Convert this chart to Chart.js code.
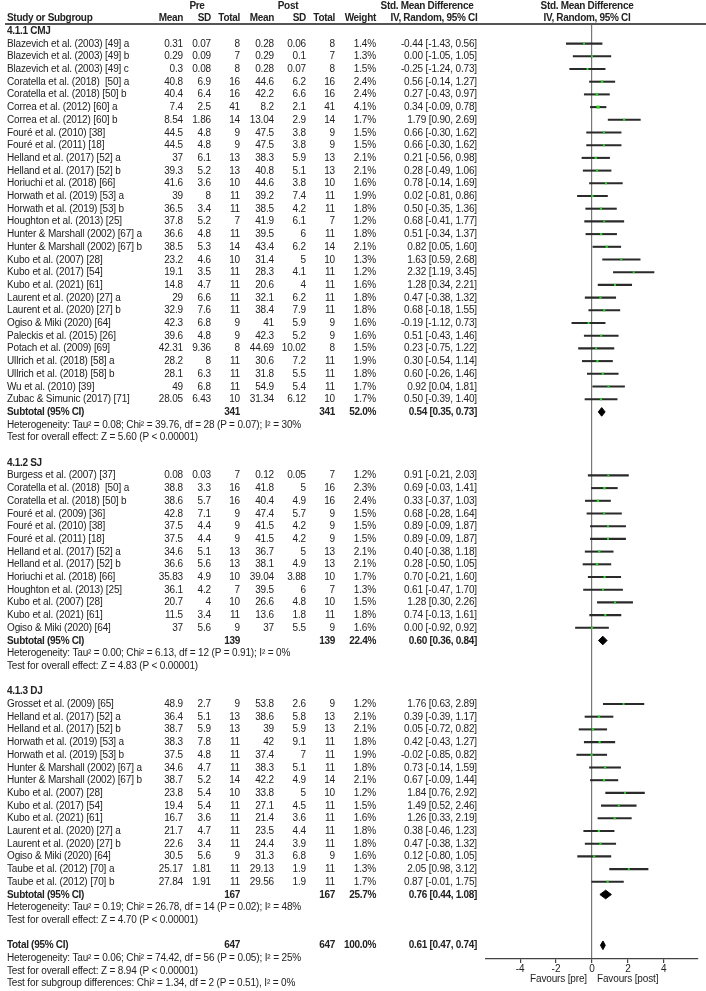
<!DOCTYPE html>
<html>
<head>
<meta charset="utf-8">
<script src="https://cdn.jsdelivr.net/npm/chart.js@4.4.0/dist/chart.umd.min.js"></script>
<style>
  body { margin: 0; background: #fff; }
  #wrap { position: relative; width: 706px; height: 991px; overflow: hidden;
          font-family: "Liberation Sans", Arial, sans-serif; font-size: 10px; color: #222; }
  #forest { position: absolute; left: 0; top: 0; }
  .t { position: absolute; white-space: pre; line-height: 12px; height: 12px; letter-spacing: -0.15px; }
  .b { font-weight: bold; letter-spacing: -0.3px; }
  .rule { position: absolute; left: 5px; top: 23px; width: 701px; height: 2px; background: #555; }
</style>
</head>
<body>
<div id="wrap">
  <canvas id="forest" width="706" height="991"></canvas>
  <div class="rule"></div>
</div>
<script>
// ---- data ----
const subgroupTitles = ['4.1.1 CMJ', '4.1.2 SJ', '4.1.3 DJ'];

const cmjStudies = [
  'Blazevich et al. (2003) [49] a', 'Blazevich et al. (2003) [49] b', 'Blazevich et al. (2003) [49] c',
  'Coratella et al. (2018)  [50] a', 'Coratella et al. (2018) [50] b',
  'Correa et al. (2012) [60] a', 'Correa et al. (2012) [60] b',
  'Fouré et al. (2010) [38]', 'Fouré et al. (2011) [18]',
  'Helland et al. (2017) [52] a', 'Helland et al. (2017) [52] b',
  'Horiuchi et al. (2018) [66]', 'Horwath et al. (2019) [53] a', 'Horwath et al. (2019) [53] b',
  'Houghton et al. (2013) [25]', 'Hunter & Marshall (2002) [67] a', 'Hunter & Marshall (2002) [67] b',
  'Kubo et al. (2007) [28]', 'Kubo et al. (2017) [54]', 'Kubo et al. (2021) [61]',
  'Laurent et al. (2020) [27] a', 'Laurent et al. (2020) [27] b', 'Ogiso & Miki (2020) [64]',
  'Paleckis et al. (2015) [26]', 'Potach et al. (2009) [69]',
  'Ullrich et al. (2018) [58] a', 'Ullrich et al. (2018) [58] b',
  'Wu et al. (2010) [39]', 'Zubac & Simunic (2017) [71]'
];
const cmjPre = [
  [0.31, 0.07, 8], [0.29, 0.09, 7], [0.3, 0.08, 8], [40.8, 6.9, 16], [40.4, 6.4, 16],
  [7.4, 2.5, 41], [8.54, 1.86, 14], [44.5, 4.8, 9], [44.5, 4.8, 9], [37, 6.1, 13],
  [39.3, 5.2, 13], [41.6, 3.6, 10], [39, 8, 11], [36.5, 3.4, 11], [37.8, 5.2, 7],
  [36.6, 4.8, 11], [38.5, 5.3, 14], [23.2, 4.6, 10], [19.1, 3.5, 11], [14.8, 4.7, 11],
  [29, 6.6, 11], [32.9, 7.6, 11], [42.3, 6.8, 9], [39.6, 4.8, 9], [42.31, 9.36, 8],
  [28.2, 8, 11], [28.1, 6.3, 11], [49, 6.8, 11], [28.05, 6.43, 10]
];
const cmjPost = [
  [0.28, 0.06, 8], [0.29, 0.1, 7], [0.28, 0.07, 8], [44.6, 6.2, 16], [42.2, 6.6, 16],
  [8.2, 2.1, 41], [13.04, 2.9, 14], [47.5, 3.8, 9], [47.5, 3.8, 9], [38.3, 5.9, 13],
  [40.8, 5.1, 13], [44.6, 3.8, 10], [39.2, 7.4, 11], [38.5, 4.2, 11], [41.9, 6.1, 7],
  [39.5, 6, 11], [43.4, 6.2, 14], [31.4, 5, 10], [28.3, 4.1, 11], [20.6, 4, 11],
  [32.1, 6.2, 11], [38.4, 7.9, 11], [41, 5.9, 9], [42.3, 5.2, 9], [44.69, 10.02, 8],
  [30.6, 7.2, 11], [31.8, 5.5, 11], [54.9, 5.4, 11], [31.34, 6.12, 10]
];
const cmjWeight = [1.4, 1.3, 1.5, 2.4, 2.4, 4.1, 1.7, 1.5, 1.5, 2.1, 2.1, 1.6, 1.9, 1.8, 1.2,
  1.8, 2.1, 1.3, 1.2, 1.6, 1.8, 1.8, 1.6, 1.6, 1.5, 1.9, 1.8, 1.7, 1.7];
const cmjSmd = [
  [-0.44, -1.43, 0.56], [0.00, -1.05, 1.05], [-0.25, -1.24, 0.73], [0.56, -0.14, 1.27], [0.27, -0.43, 0.97],
  [0.34, -0.09, 0.78], [1.79, 0.90, 2.69], [0.66, -0.30, 1.62], [0.66, -0.30, 1.62], [0.21, -0.56, 0.98],
  [0.28, -0.49, 1.06], [0.78, -0.14, 1.69], [0.02, -0.81, 0.86], [0.50, -0.35, 1.36], [0.68, -0.41, 1.77],
  [0.51, -0.34, 1.37], [0.82, 0.05, 1.60], [1.63, 0.59, 2.68], [2.32, 1.19, 3.45], [1.28, 0.34, 2.21],
  [0.47, -0.38, 1.32], [0.68, -0.18, 1.55], [-0.19, -1.12, 0.73], [0.51, -0.43, 1.46], [0.23, -0.75, 1.22],
  [0.30, -0.54, 1.14], [0.60, -0.26, 1.46], [0.92, 0.04, 1.81], [0.50, -0.39, 1.40]
];

const sjStudies = [
  'Burgess et al. (2007) [37]', 'Coratella et al. (2018)  [50] a', 'Coratella et al. (2018) [50] b',
  'Fouré et al. (2009) [36]', 'Fouré et al. (2010) [38]', 'Fouré et al. (2011) [18]',
  'Helland et al. (2017) [52] a', 'Helland et al. (2017) [52] b', 'Horiuchi et al. (2018) [66]',
  'Houghton et al. (2013) [25]', 'Kubo et al. (2007) [28]', 'Kubo et al. (2021) [61]',
  'Ogiso & Miki (2020) [64]'
];
const sjPre = [
  [0.08, 0.03, 7], [38.8, 3.3, 16], [38.6, 5.7, 16], [42.8, 7.1, 9], [37.5, 4.4, 9],
  [37.5, 4.4, 9], [34.6, 5.1, 13], [36.6, 5.6, 13], [35.83, 4.9, 10], [36.1, 4.2, 7],
  [20.7, 4, 10], [11.5, 3.4, 11], [37, 5.6, 9]
];
const sjPost = [
  [0.12, 0.05, 7], [41.8, 5, 16], [40.4, 4.9, 16], [47.4, 5.7, 9], [41.5, 4.2, 9],
  [41.5, 4.2, 9], [36.7, 5, 13], [38.1, 4.9, 13], [39.04, 3.88, 10], [39.5, 6, 7],
  [26.6, 4.8, 10], [13.6, 1.8, 11], [37, 5.5, 9]
];
const sjWeight = [1.2, 2.3, 2.4, 1.5, 1.5, 1.5, 2.1, 2.1, 1.7, 1.3, 1.5, 1.8, 1.6];
const sjSmd = [
  [0.91, -0.21, 2.03], [0.69, -0.03, 1.41], [0.33, -0.37, 1.03], [0.68, -0.28, 1.64], [0.89, -0.09, 1.87],
  [0.89, -0.09, 1.87], [0.40, -0.38, 1.18], [0.28, -0.50, 1.05], [0.70, -0.21, 1.60], [0.61, -0.47, 1.70],
  [1.28, 0.30, 2.26], [0.74, -0.13, 1.61], [0.00, -0.92, 0.92]
];

const djStudies = [
  'Grosset et al. (2009) [65]', 'Helland et al. (2017) [52] a', 'Helland et al. (2017) [52] b',
  'Horwath et al. (2019) [53] a', 'Horwath et al. (2019) [53] b',
  'Hunter & Marshall (2002) [67] a', 'Hunter & Marshall (2002) [67] b',
  'Kubo et al. (2007) [28]', 'Kubo et al. (2017) [54]', 'Kubo et al. (2021) [61]',
  'Laurent et al. (2020) [27] a', 'Laurent et al. (2020) [27] b', 'Ogiso & Miki (2020) [64]',
  'Taube et al. (2012) [70] a', 'Taube et al. (2012) [70] b'
];
const djPre = [
  [48.9, 2.7, 9], [36.4, 5.1, 13], [38.7, 5.9, 13], [38.3, 7.8, 11], [37.5, 4.8, 11],
  [34.6, 4.7, 11], [38.7, 5.2, 14], [23.8, 5.4, 10], [19.4, 5.4, 11], [16.7, 3.6, 11],
  [21.7, 4.7, 11], [22.6, 3.4, 11], [30.5, 5.6, 9], [25.17, 1.81, 11], [27.84, 1.91, 11]
];
const djPost = [
  [53.8, 2.6, 9], [38.6, 5.8, 13], [39, 5.9, 13], [42, 9.1, 11], [37.4, 7, 11],
  [38.3, 5.1, 11], [42.2, 4.9, 14], [33.8, 5, 10], [27.1, 4.5, 11], [21.4, 3.6, 11],
  [23.5, 4.4, 11], [24.4, 3.9, 11], [31.3, 6.8, 9], [29.13, 1.9, 11], [29.56, 1.9, 11]
];
const djWeight = [1.2, 2.1, 2.1, 1.8, 1.9, 1.8, 2.1, 1.2, 1.5, 1.6, 1.8, 1.8, 1.6, 1.3, 1.7];
const djSmd = [
  [1.76, 0.63, 2.89], [0.39, -0.39, 1.17], [0.05, -0.72, 0.82], [0.42, -0.43, 1.27], [-0.02, -0.85, 0.82],
  [0.73, -0.14, 1.59], [0.67, -0.09, 1.44], [1.84, 0.76, 2.92], [1.49, 0.52, 2.46], [1.26, 0.33, 2.19],
  [0.38, -0.46, 1.23], [0.47, -0.38, 1.32], [0.12, -0.80, 1.05], [2.05, 0.98, 3.12], [0.87, -0.01, 1.75]
];

const subtotalN = [[341, 341], [139, 139], [167, 167]];
const subtotalWeight = [52.0, 22.4, 25.7];
const subtotalSmd = [[0.54, 0.35, 0.73], [0.60, 0.36, 0.84], [0.76, 0.44, 1.08]];
const heterogeneity = [
  'Heterogeneity: Tau² = 0.08; Chi² = 39.76, df = 28 (P = 0.07); I² = 30%',
  'Heterogeneity: Tau² = 0.00; Chi² = 6.13, df = 12 (P = 0.91); I² = 0%',
  'Heterogeneity: Tau² = 0.19; Chi² = 26.78, df = 14 (P = 0.02); I² = 48%'
];
const overallEffect = [
  'Test for overall effect: Z = 5.60 (P < 0.00001)',
  'Test for overall effect: Z = 4.83 (P < 0.00001)',
  'Test for overall effect: Z = 4.70 (P < 0.00001)'
];

const totalN = [647, 647];
const totalWeight = 100.0;
const totalSmd = [0.61, 0.47, 0.74];
const totalNotes = [
  'Heterogeneity: Tau² = 0.06; Chi² = 74.42, df = 56 (P = 0.05); I² = 25%',
  'Test for overall effect: Z = 8.94 (P < 0.00001)',
  'Test for subgroup differences: Chi² = 1.34, df = 2 (P = 0.51), I² = 0%'
];

const xTicks = [-4, -2, 0, 2, 4];
const favours = ['Favours [pre]', 'Favours [post]'];

// ---- layout ----
const FONT = '"Liberation Sans", Arial, sans-serif';
const ROW_H = 12.7, ROW0 = 5.5;       // pixel centre of line 0 and line spacing
const COL = { name: 7, preMean: 183, preSD: 211, preN: 240, postMean: 274, postSD: 306, postN: 335,
              weight: 376, ci: 477 };
const DIAMOND_H = 0.34;

const groups = [
  { names: cmjStudies, pre: cmjPre, post: cmjPost, weight: cmjWeight, smd: cmjSmd },
  { names: sjStudies, pre: sjPre, post: sjPost, weight: sjWeight, smd: sjSmd },
  { names: djStudies, pre: djPre, post: djPost, weight: djWeight, smd: djSmd }
];

const fmtCI = s => `${s[0].toFixed(2)} [${s[1].toFixed(2)}, ${s[2].toFixed(2)}]`;

const texts = [];   // {s, x, L, align, bold}
const put = (s, x, L, align, bold) => texts.push({ s: String(s), x, L, align, bold });

const studyRows = [];
const summaryRows = [];

// header
put('Pre', 197, 0, 'center', true);
put('Post', 288, 0, 'center', true);
put('Std. Mean Difference', 427, 0, 'center', true);
put('Std. Mean Difference', 587, 0, 'center', true);
put('Study or Subgroup', COL.name, 1, 'left', true);
put('Mean', COL.preMean, 1, 'right', true);
put('SD', COL.preSD, 1, 'right', true);
put('Total', COL.preN, 1, 'right', true);
put('Mean', COL.postMean, 1, 'right', true);
put('SD', COL.postSD, 1, 'right', true);
put('Total', COL.postN, 1, 'right', true);
put('Weight', COL.weight, 1, 'right', true);
put('IV, Random, 95% CI', 434, 1, 'center', true);
put('IV, Random, 95% CI', 587, 1, 'center', true);

let L = 2;
groups.forEach((g, gi) => {
  put(subgroupTitles[gi], COL.name, L, 'left', true);
  L++;
  g.names.forEach((n, i) => {
    put(n, COL.name, L, 'left');
    put(g.pre[i][0], COL.preMean, L, 'right');
    put(g.pre[i][1], COL.preSD, L, 'right');
    put(g.pre[i][2], COL.preN, L, 'right');
    put(g.post[i][0], COL.postMean, L, 'right');
    put(g.post[i][1], COL.postSD, L, 'right');
    put(g.post[i][2], COL.postN, L, 'right');
    put(g.weight[i].toFixed(1) + '%', COL.weight, L, 'right');
    put(fmtCI(g.smd[i]), COL.ci, L, 'right');
    studyRows.push({ L, est: g.smd[i][0], lo: g.smd[i][1], hi: g.smd[i][2], w: g.weight[i] });
    L++;
  });
  put('Subtotal (95% CI)', COL.name, L, 'left', true);
  put(subtotalN[gi][0], COL.preN, L, 'right', true);
  put(subtotalN[gi][1], COL.postN, L, 'right', true);
  put(subtotalWeight[gi].toFixed(1) + '%', COL.weight, L, 'right', true);
  put(fmtCI(subtotalSmd[gi]), COL.ci, L, 'right', true);
  summaryRows.push({ L, est: subtotalSmd[gi][0], lo: subtotalSmd[gi][1], hi: subtotalSmd[gi][2] });
  L++;
  put(heterogeneity[gi], COL.name, L, 'left'); L++;
  put(overallEffect[gi], COL.name, L, 'left'); L++;
  L++; // blank line
});

put('Total (95% CI)', COL.name, L, 'left', true);
put(totalN[0], COL.preN, L, 'right', true);
put(totalN[1], COL.postN, L, 'right', true);
put(totalWeight.toFixed(1) + '%', COL.weight, L, 'right', true);
put(fmtCI(totalSmd), COL.ci, L, 'right', true);
summaryRows.push({ L, est: totalSmd[0], lo: totalSmd[1], hi: totalSmd[2] });
L++;
totalNotes.forEach(s => { put(s, COL.name, L, 'left'); L++; });

// ---- chart ----
const diamondSets = summaryRows.map(r => ({
  type: 'line',
  data: [
    { x: r.lo, y: r.L }, { x: r.est, y: r.L - DIAMOND_H }, { x: r.hi, y: r.L },
    { x: r.est, y: r.L + DIAMOND_H }, { x: r.lo, y: r.L }
  ],
  borderColor: '#000',
  backgroundColor: '#000',
  borderWidth: 1,
  pointRadius: 0,
  tension: 0,
  fill: 'shape',
  order: 1
}));

const ctx = document.getElementById('forest');
const chart = new Chart(ctx, {
  type: 'scatter',
  data: {
    datasets: [
      {
        type: 'bar',
        indexAxis: 'y',
        data: studyRows.map(r => ({ y: r.L, x: [r.lo, r.hi] })),
        backgroundColor: '#2a2a2a',
        borderWidth: 0,
        barThickness: 1.4,
        order: 3
      },
      {
        type: 'scatter',
        data: studyRows.map(r => ({ x: r.est, y: r.L })),
        pointStyle: 'rect',
        pointRadius: studyRows.map(r => 1.0 + r.w * 0.3),
        backgroundColor: '#22dd22',
        borderWidth: 0,
        order: 2
      },
      ...diamondSets
    ]
  },
  options: {
    responsive: false,
    animation: false,
    events: [],
    layout: { padding: { left: 486, right: 8, top: 24, bottom: 16 } },
    plugins: { legend: { display: false }, tooltip: { enabled: false } },
    scales: {
      x: {
        type: 'linear',
        min: -5.9,
        max: 5.9,
        offset: false,
        afterBuildTicks: axis => { axis.ticks = xTicks.map(v => ({ value: v })); },
        grid: {
          offset: false,
          color: c => (c.tick && c.tick.value === 0 ? '#777' : 'rgba(0,0,0,0)'),
          lineWidth: 1.2,
          tickColor: '#444',
          tickLength: 4
        },
        border: { display: true, color: '#444', width: 1.2 },
        ticks: { font: { family: FONT, size: 10 }, color: '#222', padding: 0 }
      },
      y: {
        type: 'linear',
        display: false,
        reverse: true,
        offset: false,
        grid: { offset: false },
        min: (24 - ROW0) / ROW_H,
        max: (959 - ROW0) / ROW_H
      }
    }
  }
});

// ---- table text, placed on the chart's own row scale ----
const wrap = document.getElementById('wrap');
const yPx = v => chart.scales.y.getPixelForValue(v);
texts.forEach(t => {
  const d = document.createElement('div');
  d.className = 't' + (t.bold ? ' b' : '');
  d.textContent = t.s;
  const top = yPx(t.L) - 6;
  if (t.align === 'left') {
    d.style.left = t.x + 'px';
  } else if (t.align === 'right') {
    d.style.left = (t.x - 300) + 'px';
    d.style.width = '300px';
    d.style.textAlign = 'right';
  } else {
    d.style.left = (t.x - 150) + 'px';
    d.style.width = '300px';
    d.style.textAlign = 'center';
  }
  d.style.top = top + 'px';
  wrap.appendChild(d);
});

// favours labels either side of zero, under the tick labels
const zeroX = chart.scales.x.getPixelForValue(0);
const favY = chart.chartArea.bottom + 14;
const fl = document.createElement('div');
fl.className = 't';
fl.textContent = favours[0];
fl.style.left = (zeroX - 5 - 300) + 'px';
fl.style.width = '300px';
fl.style.textAlign = 'right';
fl.style.top = favY + 'px';
wrap.appendChild(fl);
const fr = document.createElement('div');
fr.className = 't';
fr.textContent = favours[1];
fr.style.left = (zeroX + 5) + 'px';
fr.style.top = favY + 'px';
wrap.appendChild(fr);
</script>
</body>
</html>
